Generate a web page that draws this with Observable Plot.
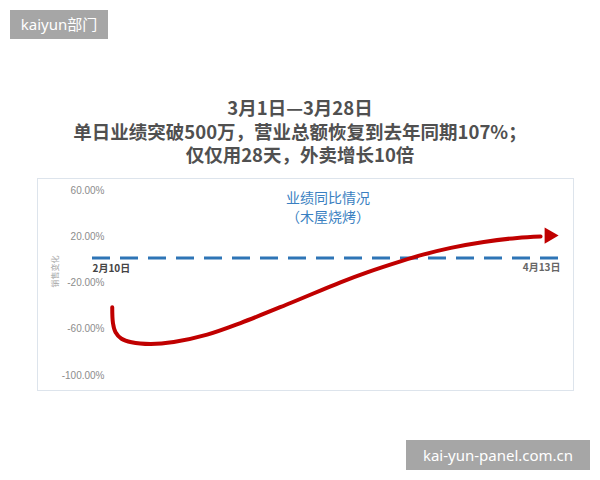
<!DOCTYPE html>
<html>
<head>
<meta charset="utf-8">
<script src="https://cdn.jsdelivr.net/npm/d3@7"></script>
<script src="https://cdn.jsdelivr.net/npm/@observablehq/plot@0.6"></script>
<style>
  html, body { margin: 0; padding: 0; background: #fff; }
  body { width: 600px; height: 480px; position: relative; overflow: hidden;
         font-family: "Noto Sans CJK SC", "Noto Sans", sans-serif; }
  .wm { position: absolute; background: #a6a6a6; color: #fff; text-align: center;
        font-family: "Noto Sans", "Noto Sans CJK SC", sans-serif; }
  #title { position: absolute; left: 0; top: 96px; width: 600px; text-align: center;
           font-size: 18.5px; line-height: 23.5px; color: #505050; font-weight: bold; }
  #chart { position: absolute; left: 37px; top: 178px; width: 535px; height: 211px;
           border: 1px solid #dde4ec; }
  #chart svg { display: block; }
</style>
</head>
<body>
<div class="wm" style="left:10px;top:10px;width:98px;height:29px;line-height:29px;font-size:15px;">kaiyun部门</div>
<div id="title"></div>
<div id="chart"></div>
<div class="wm" style="left:406px;top:440px;width:184px;height:30px;line-height:30px;font-size:15px;">kai-yun-panel.com.cn</div>
<script>
// ---- data ----
const titleLines = ["3月1日—3月28日", "单日业绩突破500万，营业总额恢复到去年同期107%；", "仅仅用28天，外卖增长10倍"];
const chartTitle = ["业绩同比情况", "（木屋烧烤）"];
const yAxisLabel = "销售变化";
const startDate = "2020-02-10";
const endDate = "2020-04-13";
const dateLabels = ["2月10日", "4月13日"];
const yTicks = [60, 20, -20, -60, -100];
// days after 2月10日 and year-over-year change (%)
const dayOffset = [2.64, 2.74, 3.08, 3.88, 5.22, 7.76, 10.87, 15.34, 19.8, 26.48, 33.17, 36.74, 41.2, 44.32, 47.93, 52.34, 56.81, 59.93];
const yoyChange = [-41, -54.8, -62.6, -68.2, -71.2, -72.7, -71, -64.6, -54.6, -37.3, -19.4, -10.8, -1.3, 4.7, 10.4, 15.5, 19.0, 20.3];
const arrowDay = 61.1;
const arrowValue = 21.0;

// ---- build ----
document.getElementById("title").innerHTML = titleLines.map(t => `<div>${t}</div>`).join("");

const t0 = new Date(startDate + "T00:00:00Z");
const toDate = d => new Date(+t0 + d * 864e5);
const series = dayOffset.map((d, i) => ({date: toDate(d), value: yoyChange[i]}));
const arrow = [{date: toDate(arrowDay), value: arrowValue}];
const ends = [new Date(startDate + "T00:00:00Z"), new Date(endDate + "T00:00:00Z")];
const labelData = dateLabels.map((t, i) => ({date: ends[i], text: t}));

const chart = Plot.plot({
  width: 535,
  height: 211,
  marginLeft: 54,
  marginRight: 10,
  marginTop: 11,
  marginBottom: 15,
  style: {fontFamily: "'Noto Sans CJK SC', sans-serif", background: "transparent"},
  x: {type: "utc", domain: ends, axis: null},
  y: {domain: [-100, 60], axis: null},
  marks: [
    Plot.axisY({anchor: "left", ticks: yTicks, tickSize: 0, tickPadding: 0, dx: 12,
      tickFormat: d => d.toFixed(2) + "%", label: null, color: "#8c8c8c",
      fontSize: 10, fontFamily: "'Liberation Sans', Arial, sans-serif"}),
    Plot.text([yAxisLabel], {frameAnchor: "left", textAnchor: "middle", rotate: -90, dx: -37, dy: -11.5,
      fontSize: 8, fill: "#a8a8a8"}),
    Plot.text([chartTitle.join("\n")], {frameAnchor: "top", lineHeight: 1.3, fontSize: 14, fill: "#3a7fc1"}),
    Plot.ruleY([0], {stroke: "#2e75b6", strokeWidth: 3, strokeDasharray: "18,10", dy: -2}),
    Plot.line(series, {x: "date", y: "value", curve: "catmull-rom", stroke: "#c00000", strokeWidth: 4}),
    Plot.dot(arrow, {x: "date", y: "value", symbol: "triangle", rotate: 90, r: 6, fill: "#c00000", stroke: "none"}),
    Plot.text(labelData.slice(0, 1), {x: "date", y: 0, text: "text", textAnchor: "start", dy: 9,
      fontSize: 10, fontWeight: "bold", fill: "#444"}),
    Plot.text(labelData.slice(1), {x: "date", y: 0, text: "text", textAnchor: "end", dx: -3, dy: 8,
      fontSize: 10, fontWeight: "bold", fill: "#666"})
  ]
});
document.getElementById("chart").appendChild(chart);
</script>
</body>
</html>
